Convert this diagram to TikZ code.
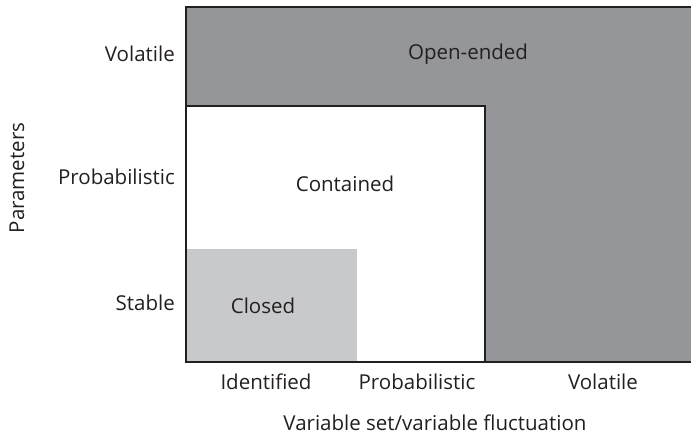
\documentclass[tikz,border=0pt]{standalone}
\usepackage{fontspec}
\setmainfont{Open Sans}
\definecolor{darkg}{HTML}{95969A}
\definecolor{lightg}{HTML}{C8C9CB}
\definecolor{ink}{HTML}{231F20}
\tikzset{
  lbl/.style={font=\fontsize{20.5}{24}\selectfont, text=ink, inner sep=0pt},
  border/.style={draw=ink, line width=1.8pt},
}
\begin{document}
\begin{tikzpicture}[x=1pt, y=-1pt]
\useasboundingbox (0,0) rectangle (691,435);
% regions
\fill[darkg] (186,7) rectangle (691,362);
\fill[white] (186,106) rectangle (485,362);
\fill[lightg] (186,249) rectangle (357,362);
\draw[border] (186,106) -- (485,106) -- (485,362);
\draw[border] (186,7) -- (691,7);
\draw[border] (186,6.1) -- (186,362) -- (691,362);
% region labels
\node[lbl] (open) at (468,54) {Open-ended};
\node[lbl] (cont) at (345,184) {Contained};
\node[lbl] (clos) at (263,306) {Closed};
% y axis labels
\node[lbl, anchor=east] (yv) at (175,54) {Volatile};
\node[lbl, anchor=east] (yp) at (175,177) {Probabilistic};
\node[lbl, anchor=east] (ys) at (175,303) {Stable};
\node[lbl, rotate=90] (ytitle) at (17,178) {Parameters};
% x axis labels
\node[lbl] (xi) at (266,382) {Identified};
\node[lbl] (xp) at (417,382) {Probabilistic};
\node[lbl] (xv) at (603,382) {Volatile};
\node[lbl] (xtitle) at (435,423) {Variable set/variable fluctuation};
\end{tikzpicture}
\end{document}
